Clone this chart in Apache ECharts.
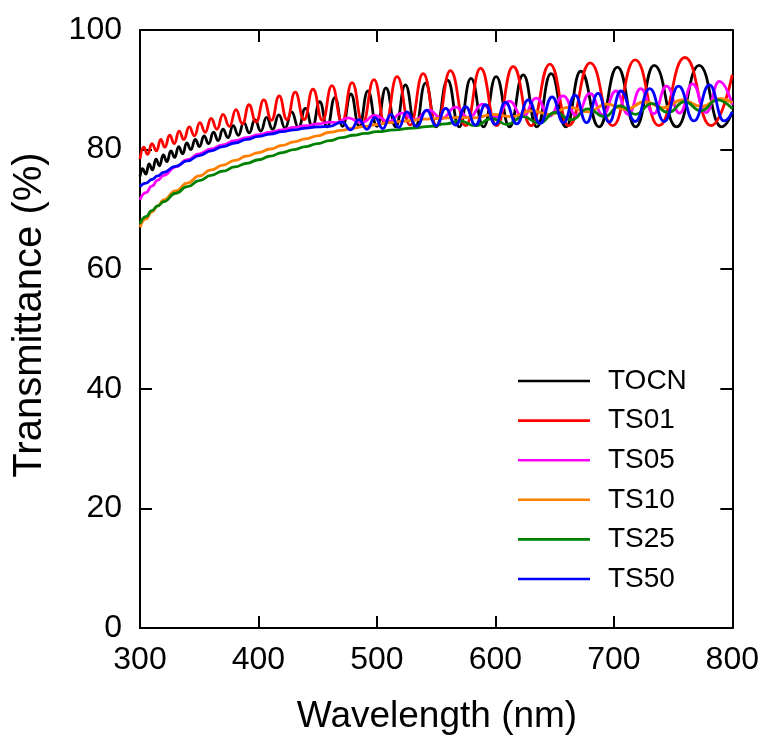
<!DOCTYPE html>
<html><head><meta charset="utf-8">
<script src="https://cdn.jsdelivr.net/npm/echarts@6/dist/echarts.min.js"></script>
<style>html,body{margin:0;padding:0;background:#fff}#c{width:762px;height:740px}</style>
</head><body><div id="c"></div>
<script>
const seriesNames = ['TOCN','TS01','TS05','TS10','TS25','TS50'];
const xTicks = [300,400,500,600,700,800];
const yTicks = [0,20,40,60,80,100];
const xTitle = 'Wavelength (nm)';
const yTitle = 'Transmittance (%)';

const TOCN = [[300,75.5],[302,76.8],[305,75.9],[307.6,77.6],[310.5,76.6],[313.5,78.4],[316.5,77.3],[319.6,79.1],[322.8,78.0],[326,79.8],[329.3,78.7],[332.6,80.5],[336,79.3],[339.4,81.1],[343,80.0],[346.6,81.7],[350.3,80.5],[354,82.3],[358,81.0],[362,82.9],[366,81.5],[370,83.4],[374.3,82.0],[378.6,84.0],[383,82.4],[387.6,84.5],[392.3,82.8],[397,85.0],[402,83.1],[406.8,85.4],[412,83.4],[417.2,85.8],[422.5,83.6],[428,86.3],[433.8,83.7],[439.6,86.9],[445.6,83.8],[451.7,88.0],[458,83.8],[464.5,88.7],[471,83.9],[478,89.3],[485,83.9],[492.4,89.8],[500,83.9],[507.6,90.3],[515.8,83.8],[524,90.8],[532.5,83.8],[541,91.1],[550,83.8],[559.6,91.6],[569.5,83.8],[579.4,91.9],[590,83.8],[600.6,92.2],[612,83.8],[623.5,92.5],[635,83.8],[647,92.7],[659.5,83.8],[672,93.1],[687.5,83.8],[703,93.8],[718.5,83.8],[734,94.1],[753,83.8],[772,94.1],[791,83.8],[800,86.3]];

const TS01 = [[300,78.4],[303,80.4],[306.5,79.2],[310,81.0],[314,79.8],[317.5,81.7],[321,80.4],[325,82.4],[329,81.0],[333,83.1],[337,81.7],[341.5,83.8],[346,82.3],[350.5,84.5],[355,82.9],[360,85.2],[365,83.4],[370,85.9],[375.5,83.9],[381,86.7],[386.5,84.3],[392,87.5],[398,84.6],[404.5,88.3],[411,84.9],[417.5,89.0],[424,85.0],[431,89.6],[438.5,85.0],[446,90.1],[454,84.9],[462,90.7],[470.5,84.7],[479,91.2],[488,84.5],[497.5,91.7],[507,84.3],[517,92.2],[528,84.1],[539,92.7],[550.5,84.0],[562,93.2],[575,84.0],[587.5,93.6],[601,84.0],[615,93.9],[630,84.0],[646,94.3],[662,84.0],[680,94.5],[699,84.0],[718,95.0],[738,84.0],[760,95.4],[782,84.0],[800,92.5]];

const TS05 = [[300,71.6],[305,72.8],[310,73.9],[315,74.9],[320,75.7],[330,77.1],[340,78.3],[350,79.3],[360,80.1],[370,80.8],[380,81.5],[390,82.0],[400,82.5],[410,82.9],[420,83.3],[430,83.7],[440,84.0],[450,84.3],[460,84.6],[466,84.5],[475.6,85.3],[487,84.5],[498.3,85.7],[509.7,84.7],[521,86.1],[532.4,85.0],[543.7,86.6],[555,85.2],[566.4,87.1],[577.7,85.3],[589.1,87.6],[600.4,85.4],[611.8,88.1],[623.1,85.5],[634.5,88.6],[645.8,85.6],[657.1,89.0],[668.5,85.7],[679.8,89.4],[690.8,85.8],[701.7,89.8],[712.2,85.9],[722.7,90.2],[733.6,86.0],[744.5,90.6],[755.5,86.1],[766.4,91.0],[777.8,86.2],[789.1,91.4],[800,87.5]];

const TS10 = [[300,67.0],[305,68.4],[310,69.6],[315,70.6],[320,71.6],[330,73.1],[340,74.4],[350,75.6],[360,76.6],[370,77.4],[380,78.2],[390,78.9],[400,79.5],[410,80.1],[420,80.7],[430,81.3],[440,81.8],[450,82.3],[460,82.9],[470,83.2],[480,83.6],[490,83.9],[500,84.2],[510,84.5],[520,84.7],[530,84.9],[540,85.1],[550,85.2],[560,85.3],[570,85.4],[582,85.3],[598.3,85.9],[614,85.5],[630.3,86.5],[646,85.9],[662.2,87.1],[678,86.3],[694.1,87.6],[710,86.7],[726.1,88.0],[742,87.0],[758,88.3],[774,87.2],[789.9,88.5],[800,87.8]];

const TS25 = [[300,67.6],[305,68.8],[310,69.8],[315,70.6],[320,71.3],[330,72.7],[340,73.8],[350,74.8],[360,75.7],[370,76.4],[380,77.1],[390,77.7],[400,78.3],[410,78.9],[420,79.5],[430,80.0],[440,80.5],[450,81.0],[460,81.5],[470,82.0],[480,82.4],[490,82.7],[500,83.0],[515,83.3],[530,83.6],[545,83.9],[558,84.3],[570,84.8],[583,84.0],[597,85.2],[610,84.2],[623.5,85.5],[637,84.4],[650.4,86.2],[664,85.0],[678.2,86.8],[692,85.5],[705,87.3],[718.5,85.9],[731.9,87.7],[746,86.2],[759.7,88.0],[773.5,86.5],[787.4,88.3],[800,86.8]];

const TS50 = [[300,73.8],[305,74.4],[310,75.0],[315,75.6],[320,76.2],[330,77.2],[340,78.1],[350,79.0],[360,79.8],[370,80.5],[380,81.1],[390,81.7],[400,82.2],[410,82.6],[420,83.0],[430,83.3],[440,83.6],[450,83.8],[460,83.9],[470.6,84.6],[477.8,83.3],[484.9,85.0],[491.6,83.4],[498.3,85.4],[505,83.5],[511.8,85.9],[518.5,83.7],[525.2,86.3],[533.6,83.9],[542,86.6],[550,84.0],[558,86.9],[566.4,84.1],[574.8,87.2],[583.2,84.1],[591.6,87.5],[600,84.2],[608.4,87.9],[618,84.3],[627.7,88.3],[637.8,84.4],[647.9,88.8],[657.5,84.5],[667.2,89.1],[677,84.5],[686.6,89.4],[696,84.6],[705.9,89.8],[718,84.7],[730.3,90.2],[742.5,84.7],[754.6,90.6],[767.6,84.8],[780.7,90.8],[793,84.8],[800,86.3]];

const seriesData = [TOCN, TS01, TS05, TS10, TS25, TS50];
const colors = ['#000000','#ff0000','#ff00ff','#ff8000','#008000','#0000ff'];

const font = '"Liberation Sans", Arial, sans-serif';
const chart = echarts.init(document.getElementById('c'), null, {renderer:'canvas'});

function xAx(pos, showLabel) {
  return {
    type:'value', position:pos, min:xTicks[0], max:xTicks[xTicks.length-1], interval:xTicks[1]-xTicks[0],
    axisLine:{show:true, onZero:false, lineStyle:{color:'#000', width:2}},
    axisTick:{show:true, inside:true, length:12, lineStyle:{color:'#000', width:2}},
    axisLabel:{show:showLabel, margin:16, fontFamily:font, fontSize:32, color:'#000'},
    splitLine:{show:false}
  };
}
function yAx(pos, showLabel) {
  return {
    type:'value', position:pos, min:yTicks[0], max:yTicks[yTicks.length-1], interval:yTicks[1]-yTicks[0],
    axisLine:{show:true, onZero:false, lineStyle:{color:'#000', width:2}},
    axisTick:{show:true, inside:true, length:12, lineStyle:{color:'#000', width:2}},
    axisLabel:{show:showLabel, margin:18, fontFamily:font, fontSize:32, color:'#000'},
    splitLine:{show:false}
  };
}

chart.setOption({
  animation:false,
  backgroundColor:'#fff',
  grid:{left:140, top:30, width:595, height:598},
  legend:{
    orient:'vertical', left:518, top:367, padding:0, itemWidth:72, itemHeight:28, itemGap:11.6,
    icon:'path://M0,0 L72,0 L72,2.6 L0,2.6 Z', symbolKeepAspect:true,
    textStyle:{fontFamily:font, fontSize:28, color:'#000', padding:[0,0,0,13]},
    data:seriesNames
  },
  graphic:[
    {type:'text', x:437, y:717, style:{text:xTitle, font:'37px "Liberation Sans", Arial, sans-serif', fill:'#000', align:'center', verticalAlign:'middle'}},
    {type:'text', rotation:Math.PI/2, x:30, y:315, style:{text:yTitle, font:'40px "Liberation Sans", Arial, sans-serif', fill:'#000', align:'center', verticalAlign:'middle'}}
  ],
  xAxis:[xAx('bottom', true), xAx('top', false)],
  yAxis:[yAx('left', true), yAx('right', false)],
  series: seriesNames.map((n,i)=>({
    name:n, type:'line', data:seriesData[i], xAxisIndex:0, yAxisIndex:0,
    symbol:'none', smooth:0.5, smoothMonotone:'x', clip:true,
    lineStyle:{color:colors[i], width:2.8}, itemStyle:{color:colors[i]}
  }))
});
</script></body></html>
